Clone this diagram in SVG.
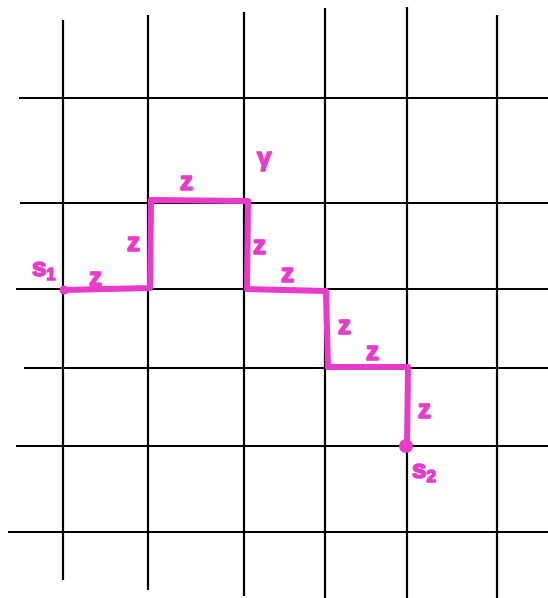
<svg xmlns="http://www.w3.org/2000/svg" width="548" height="598" viewBox="0 0 548 598">
<style>
.g{stroke:#000;stroke-width:2.2;fill:none}
.p{stroke:#e83acb;stroke-width:6;fill:none;stroke-linejoin:round;stroke-linecap:round}
.t{fill:#e83acb;stroke:#e83acb;stroke-width:1.6;stroke-linejoin:round;font-family:"Liberation Sans",sans-serif;font-weight:bold;font-size:26px}
</style>
<rect width="548" height="598" fill="#fff"/>
<g id="grid">
<line class="g" x1="63" y1="20" x2="63" y2="580"/>
<line class="g" x1="148" y1="15" x2="148" y2="590"/>
<line class="g" x1="244" y1="12" x2="244" y2="596"/>
<line class="g" x1="325" y1="8" x2="325" y2="598"/>
<line class="g" x1="407" y1="7" x2="407" y2="598"/>
<line class="g" x1="497" y1="15" x2="497" y2="598"/>
<line class="g" x1="19" y1="98" x2="548" y2="98"/>
<line class="g" x1="20" y1="203" x2="548" y2="203"/>
<line class="g" x1="16" y1="289" x2="548" y2="289"/>
<line class="g" x1="24" y1="368" x2="548" y2="368"/>
<line class="g" x1="16" y1="446" x2="548" y2="446"/>
<line class="g" x1="8" y1="532" x2="548" y2="532"/>
</g>
<g id="path">
<path class="p" d="M64 290 L150 288 L151 200 L248 201 L247 289 L326 291 L328 367 L408 367 L407 446"/>
<circle cx="64" cy="290" r="4.5" fill="#e83acb"/>
<circle cx="406" cy="446" r="7" fill="#e83acb"/>
</g>
<g id="labels">
<text class="t" x="32" y="276" font-size="22">s<tspan font-size="16" dy="4">1</tspan></text>
<text class="t" x="89" y="286" font-size="22">z</text>
<text class="t" x="127" y="251">z</text>
<text class="t" x="180" y="190">z</text>
<text class="t" x="257" y="166">γ</text>
<text class="t" x="253" y="254">z</text>
<text class="t" x="281" y="282">z</text>
<text class="t" x="338" y="334">z</text>
<text class="t" x="366" y="360">z</text>
<text class="t" x="418" y="418">z</text>
<text class="t" x="412" y="478" font-size="24">s<tspan font-size="17" dy="4">2</tspan></text>
</g>
</svg>
